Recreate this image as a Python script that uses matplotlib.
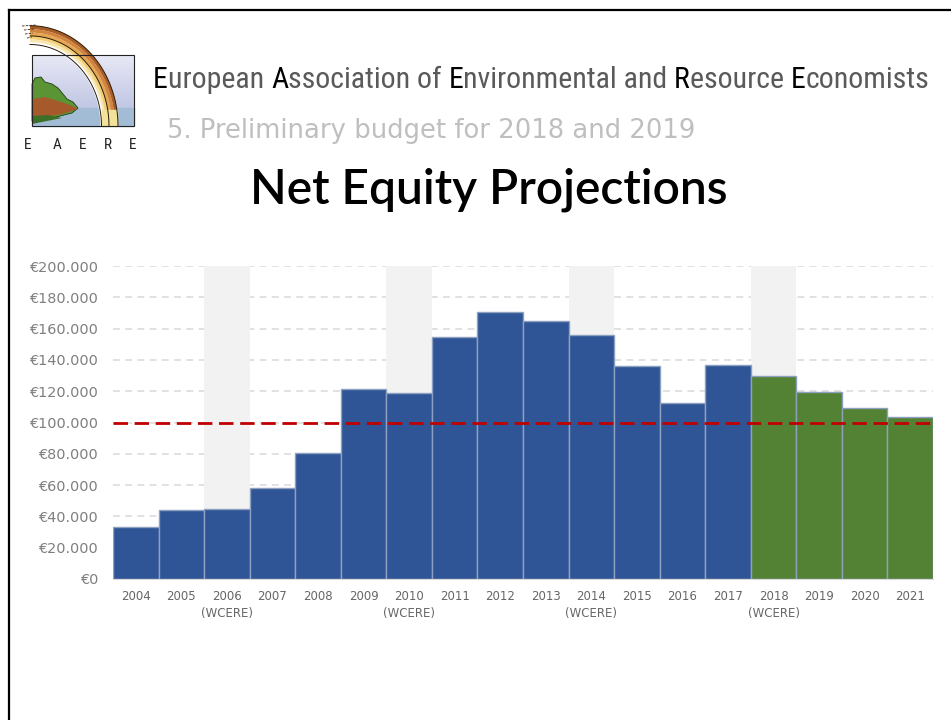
import os
import numpy as np
import matplotlib
matplotlib.use("Agg")
import matplotlib.pyplot as plt
from matplotlib.patches import Rectangle, Polygon
from matplotlib.lines import Line2D
from matplotlib import font_manager
from matplotlib.font_manager import FontProperties

# ---- data -------------------------------------------------------------
years = ["2004", "2005", "2006", "2007", "2008", "2009", "2010", "2011", "2012",
         "2013", "2014", "2015", "2016", "2017", "2018", "2019", "2020", "2021"]
net_equity = [33300, 44400, 45000, 58400, 80400, 121700, 119000, 154600, 170500,
              164800, 155800, 135800, 112400, 136900, 130000, 119600, 109400, 103200]
projected = [False] * 14 + [True] * 4
wcere_years = ["2006", "2010", "2014", "2018"]
threshold = 100000
y_ticks = [0, 20000, 40000, 60000, 80000, 100000, 120000, 140000, 160000, 180000, 200000]

W, H, DPI = 951, 720, 100
fig = plt.figure(figsize=(W / DPI, H / DPI), dpi=DPI)
fig.patch.set_facecolor("white")


def find_narrow_font():
    """Pick a regular-weight condensed sans face if one is installed."""
    prefs = ["liberationsansnarrow-regular", "robotocondensed-regular",
             "dejavusanscondensed.", "opensans_condensed-regular",
             "opensanscondensed-regular", "notosans-condensed"]
    files = [f.fname for f in font_manager.fontManager.ttflist]
    for p in prefs:
        for fn in files:
            if os.path.basename(fn).lower().startswith(p):
                return fn
    for fn in files:
        b = os.path.basename(fn).lower()
        if ("narrow" in b or "condensed" in b) and not any(
                k in b for k in ("bold", "italic", "oblique", "light", "thin", "black")):
            return fn
    return None


narrow_file = find_narrow_font()


def narrow_props(size):
    if narrow_file:
        return FontProperties(fname=narrow_file, size=size)
    return FontProperties(family="Liberation Sans", size=size)


# ---- page overlay in pixel coordinates --------------------------------
page = fig.add_axes([0, 0, 1, 1])
page.set_xlim(0, W)
page.set_ylim(H, 0)
page.axis("off")

# slide frame
page.add_line(Line2D([9, 9], [10, H], color="black", lw=1.6))
page.add_line(Line2D([9, W], [10, 10], color="black", lw=1.6))

# logo: sky box, island, rainbow
sky = np.linspace(0, 1, 60).reshape(-1, 1)
page.imshow(sky, cmap=matplotlib.colors.LinearSegmentedColormap.from_list(
    "sky", ["#e8e9f6", "#d3d6ec", "#c0c7e3"]), extent=(32, 134, 110, 55),
    aspect="auto", zorder=1)
page.add_patch(Rectangle((32, 108), 102, 17.5, color="#a3bcd6", zorder=2))
page.add_patch(Rectangle((32, 55), 102, 70.5, fill=False, ec="#222222", lw=0.8, zorder=6))
island = Polygon([(32, 84), (35, 78), (41, 77), (45, 82), (52, 84), (58, 88), (63, 94),
                  (67, 99), (73, 102), (78, 108), (72, 113), (60, 116), (45, 120),
                  (32, 121)],
                 closed=True, fc="#5a9435", ec="#1e3d12", lw=0.6, zorder=3)
page.add_patch(island)
soil = Polygon([(32, 99), (45, 97), (58, 101), (70, 105), (78, 109), (62, 114),
                (45, 117), (32, 117)], closed=True, fc="#a65a2c", ec="none", zorder=3.5)
page.add_patch(soil)
page.add_patch(Polygon([(32, 116), (48, 115), (62, 118), (32, 124)], closed=True,
                       fc="#3c6f28", ec="none", zorder=3.6))

cx, cy = 30, 126
ky = 1.14
t = np.linspace(0.0, np.pi / 2, 140)
bands = [(88, "#a85c26"), (85, "#cf8540"), (82, "#e6a550"), (79, "#f2cf78"),
         (76, "#f8e6b0"), (73.5, "#ffffff")]
for r, col in bands:
    r2 = r - 3.1
    xs = np.r_[cx + r * np.sin(t), cx + r2 * np.sin(t[::-1])]
    ys = np.r_[cy - r * ky * np.cos(t), cy - r2 * ky * np.cos(t[::-1])]
    page.add_patch(Polygon(np.column_stack([xs, ys]), closed=True, fc=col,
                           ec="none", zorder=4))
for r in (88, 79, 71.5):
    page.plot(cx + r * np.sin(t), cy - r * ky * np.cos(t), color="#2a1a0a",
              lw=0.7, zorder=5)
# reflection of the rainbow in the water
page.add_patch(Rectangle((cx + 72, 110), 15, 15.5, color="#f3e29a", zorder=4.5))
# wispy streaks where the rainbow fades out at the top left
for dy, x0, x1 in ((-1, 22, 36), (3, 24, 34), (7, 25, 33), (11, 27, 32)):
    page.plot([x0, x1], [27 + dy, 26 + dy], color="#3a2a1a", lw=0.6,
              dashes=(3, 1.5), zorder=5)

for xl, ch in zip([28, 57, 83, 108, 133], "EAERE"):
    page.text(xl, 149, ch, fontproperties=narrow_props(11), color="#222222",
              ha="center", va="baseline")

renderer = fig.canvas.get_renderer()


def draw_runs(x, y, runs, size, target_width):
    # measure once, then scale the size so the line spans the target width
    probe = [page.text(0, 0, s, fontproperties=narrow_props(size)) for s, _ in runs]
    total = sum(p.get_window_extent(renderer).width for p in probe)
    for p in probe:
        p.remove()
    size = size * float(np.clip(target_width / total, 0.8, 1.25))
    for s, col in runs:
        txt = page.text(x, y, s, color=col, ha="left", va="baseline",
                        fontproperties=narrow_props(size))
        x += txt.get_window_extent(renderer).width


grey = "#5a5a5a"
draw_runs(153, 88, [("E", "black"), ("uropean ", grey), ("A", "black"),
                    ("ssociation of ", grey), ("E", "black"), ("nvironmental and ", grey),
                    ("R", "black"), ("esource ", grey), ("E", "black"),
                    ("conomists", grey)], 19.5, 779)

page.text(167, 137.5, "5. Preliminary budget for 2018 and 2019", family="DejaVu Sans",
          fontsize=18.6, color="#bfbfbf", ha="left", va="baseline")

page.text(489, 203.5, "Net Equity Projections", family="Lato", fontsize=34.5,
          fontweight="semibold", color="black", ha="center", va="baseline")

# ---- chart ------------------------------------------------------------
left, right, top, bottom = 113, 933, 266, 579
ax = fig.add_axes([left / W, 1 - bottom / H, (right - left) / W, (bottom - top) / H])
x = np.arange(len(years))
colors = ["#548235" if p else "#2f5597" for p in projected]

for i, yr in enumerate(years):
    if yr in wcere_years:
        ax.axvspan(i - 0.5, i + 0.5, color="#f2f2f2", zorder=1, lw=0)

for v in y_ticks[1:]:
    ax.axhline(v, color="#d9d9d9", lw=1.1, dashes=(4.5, 3.5), zorder=0.5)

ax.bar(x, net_equity, width=1.0, color=colors, edgecolor="#8ea0bf", linewidth=1.0,
       zorder=2)
ax.axhline(threshold, color="#c00000", lw=2.0, dashes=(5.2, 2.4), zorder=3)

ax.set_xlim(-0.5, len(years) - 0.5)
ax.set_ylim(0, 200000)
ax.set_yticks(y_ticks)
ax.set_yticklabels(["€" + f"{v:,}".replace(",", ".") for v in y_ticks])
ax.set_xticks(x)
ax.set_xticklabels([yr + "\n(WCERE)" if yr in wcere_years else yr for yr in years],
                   linespacing=1.4)
ax.tick_params(axis="y", length=0, pad=10, labelsize=10.4, labelcolor="#7f7f7f")
ax.tick_params(axis="x", length=0, pad=8, labelsize=8.5, labelcolor="#666666")
for lbl in ax.get_yticklabels() + ax.get_xticklabels():
    lbl.set_family("DejaVu Sans")
for s in ("top", "right", "left"):
    ax.spines[s].set_visible(False)
ax.spines["bottom"].set_color("#d9d9d9")
ax.set_facecolor("none")

fig.savefig("out.png", dpi=DPI)
